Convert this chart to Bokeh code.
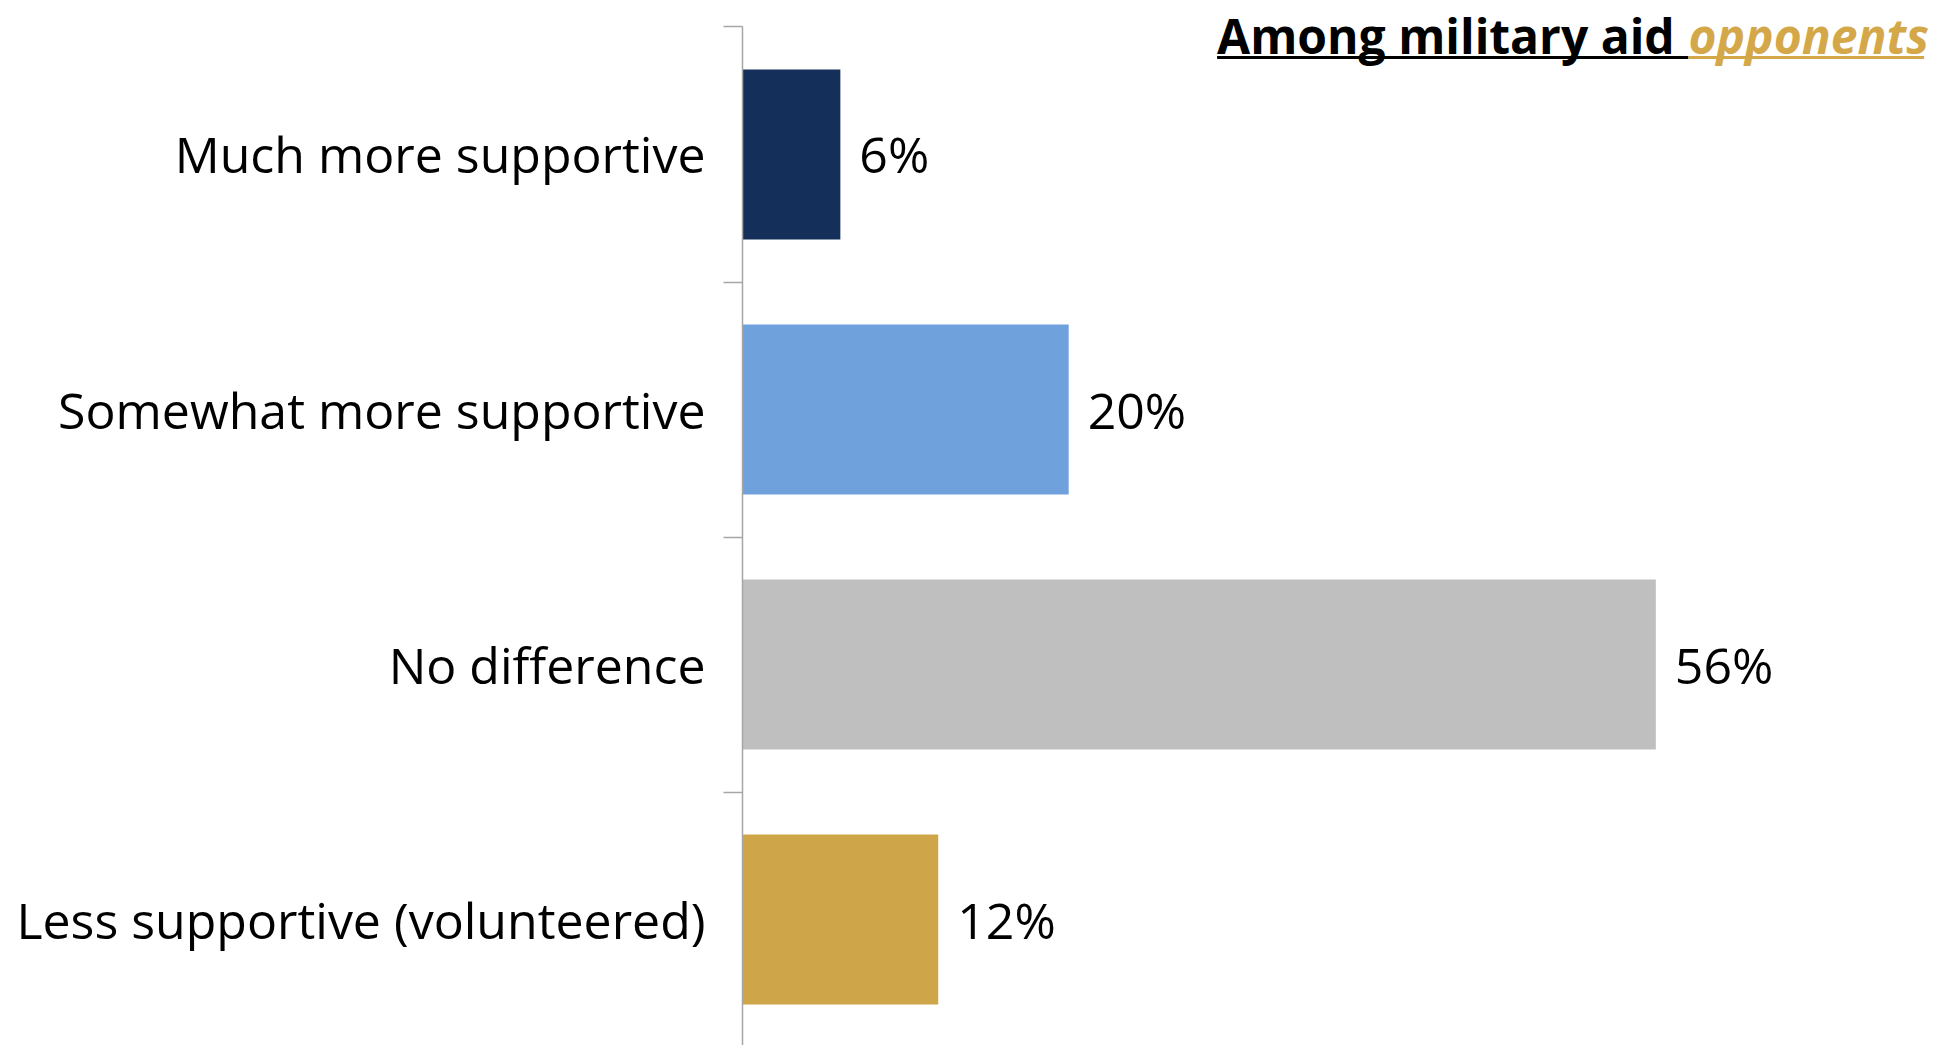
from bokeh.plotting import figure
from bokeh.models import Range1d, FixedTicker, ColumnDataSource
from bokeh.core.properties import value
from bokeh.embed import file_html
from bokeh.resources import INLINE

# ---- data ----
categories = ["Much more supportive", "Somewhat more supportive", "No difference", "Less supportive (volunteered)"]
values = [6, 20, 56, 12]
value_labels = ["6%", "20%", "56%", "12%"]
colors = ["#14305A", "#6FA2DD", "#BFBFBF", "#CFA54A"]
title_main = "Among military aid"
title_accent = "opponents"

FONT = "Open Sans"
LABEL_SIZE = "50px"

ypos = [i + 0.5 for i in range(len(categories))]
src = ColumnDataSource(dict(y=ypos, v=values, lab=value_labels, c=colors, cat=categories))

p = figure(width=1959, height=1045, output_backend="svg", toolbar_location=None,
           x_range=Range1d(0, 74.62), y_range=Range1d(3.994, -0.1039),
           x_axis_location=None, min_border_left=742, min_border_right=0,
           min_border_top=0, min_border_bottom=0)
p.outline_line_color = None
p.grid.visible = False
p.background_fill_color = "white"
p.border_fill_color = "white"

p.hbar(y="y", left=0, right="v", height=2/3, fill_color="c", line_color=None, source=src)
p.text(x="v", y="y", text="lab", x_offset=19, text_baseline="middle", text_align="left",
       text_font=value(FONT), text_font_size=LABEL_SIZE, text_color="black", source=src)

ax = p.yaxis[0]
ax.ticker = FixedTicker(ticks=ypos, minor_ticks=list(range(len(categories) + 1)))
ax.major_label_overrides = {y: c for y, c in zip(ypos, categories)}
ax.bounds = (0, len(categories))
ax.axis_line_color = "#A6A6A6"
ax.axis_line_width = 1.5
ax.major_tick_line_color = None
ax.major_tick_out = 0
ax.major_tick_in = 0
ax.minor_tick_line_color = "#A6A6A6"
ax.minor_tick_line_width = 1.5
ax.minor_tick_out = 19
ax.minor_tick_in = 0
ax.major_label_standoff = 18
ax.major_label_text_font = FONT
ax.major_label_text_font_size = LABEL_SIZE
ax.major_label_text_color = "black"

# title (two-colour, underlined)
tx0, tx1, tx2 = 29.1, 58.0, 72.45
ty, uy = 0.034, 0.12
p.text(x=[tx0], y=[ty], text=[title_main], text_font=value(FONT), text_font_style="bold",
       text_font_size="48px", text_line_height=1.0, text_color="black",
       text_baseline="middle", text_align="left")
p.text(x=[tx1], y=[ty], text=[title_accent], text_font=value(FONT), text_font_style="bold italic",
       text_font_size="48px", text_line_height=1.0, text_color="#D4A849",
       text_baseline="middle", text_align="left")
p.segment(x0=[tx0], y0=[uy], x1=[tx1], y1=[uy], line_color="black", line_width=3)
p.segment(x0=[tx1], y0=[uy], x1=[tx2], y1=[uy], line_color="#D4A849", line_width=3)

open("out.html", "w").write(file_html(p, INLINE))
